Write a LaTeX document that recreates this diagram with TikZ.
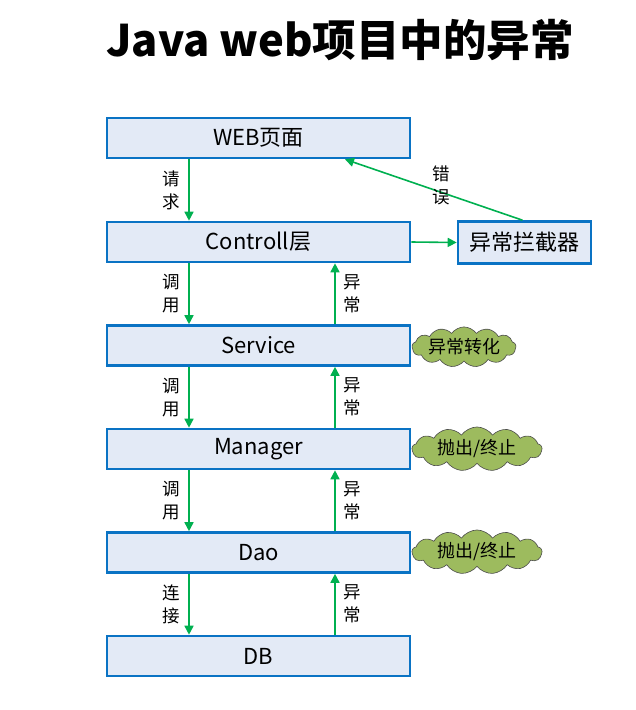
\documentclass[tikz,border=0pt]{standalone}
\usepackage{fontspec}
\setmainfont{Noto Sans CJK SC}
\usepackage{tikz}
\usetikzlibrary{arrows.meta, positioning, shapes.symbols}

\definecolor{boxfill}{HTML}{E3EAF6}
\definecolor{boxline}{HTML}{0A73C4}
\definecolor{flowgreen}{HTML}{00B050}
\definecolor{cloudfill}{HTML}{9DBB5E}

\begin{document}
\begin{tikzpicture}[
      x=1pt, y=-1pt,
      >={Triangle[length=9pt,width=9pt]},
      layer/.style={rectangle, draw=boxline, fill=boxfill, line width=2.6pt, minimum width=303pt, minimum height=40pt, inner sep=0pt, font=\fontsize{22}{26}\selectfont},
      handler/.style={layer, minimum width=133pt, minimum height=42pt},
      flow/.style={->, draw=flowgreen, line width=1.6pt},
      tag/.style={align=center, font=\fontsize{17.5}{23}\selectfont, inner sep=0pt},
      note/.style={cloud, cloud puffs=13, cloud puff arc=110, aspect=3.6, draw=black!70, line width=0.6pt, fill=cloudfill, inner sep=0pt, font=\fontsize{18}{22}\selectfont}
  ]
      \useasboundingbox (0,0) rectangle (635,710);

      % Title
      \node[font=\fontsize{43.5}{50}\selectfont\bfseries] (title) at (340,40) {Java web项目中的异常};

      % Layers
      \node[layer] (web)  at (258.5,138)   {WEB页面};
      \node[layer] (ctrl) at (258.5,242)   {Controll层};
      \node[layer] (svc)  at (258.5,345.5) {Service};
      \node[layer] (mgr)  at (258.5,449)   {Manager};
      \node[layer] (dao)  at (258.5,552.5) {Dao};
      \node[layer] (db)   at (258.5,656)   {DB};
      \node[handler] (icpt) at (524.5,242.5) {异常拦截器};

      % Notes
      \node[note, minimum width=104pt, minimum height=36pt] (n1) at (464,347) {异常转化};
      \node[note, minimum width=130pt, minimum height=36pt] (n2) at (477,449) {抛出/终止};
      \node[note, minimum width=130pt, minimum height=36pt] (n3) at (477,552) {抛出/终止};

      % Calls (down)
      \draw[flow] ([xshift=-69.5pt]web.south) -- node[tag, midway, left=8pt] {请\\求} ([xshift=-69.5pt]ctrl.north);
      \draw[flow] ([xshift=-69.5pt]ctrl.south) -- node[tag, midway, left=8pt] {调\\用} ([xshift=-69.5pt]svc.north);
      \draw[flow] ([xshift=-69.5pt]svc.south) -- node[tag, midway, left=8pt] {调\\用} ([xshift=-69.5pt]mgr.north);
      \draw[flow] ([xshift=-69.5pt]mgr.south) -- node[tag, midway, left=8pt] {调\\用} ([xshift=-69.5pt]dao.north);
      \draw[flow] ([xshift=-69.5pt]dao.south) -- node[tag, midway, left=8pt] {连\\接} ([xshift=-69.5pt]db.north);

      % Exceptions (up)
      \draw[flow] ([xshift=76.5pt]svc.north) -- node[tag, midway, right=8pt] {异\\常} ([xshift=76.5pt]ctrl.south);
      \draw[flow] ([xshift=76.5pt]mgr.north) -- node[tag, midway, right=8pt] {异\\常} ([xshift=76.5pt]svc.south);
      \draw[flow] ([xshift=76.5pt]dao.north) -- node[tag, midway, right=8pt] {异\\常} ([xshift=76.5pt]mgr.south);
      \draw[flow] ([xshift=76.5pt]db.north) -- node[tag, midway, right=8pt] {异\\常} ([xshift=76.5pt]dao.south);

      % Interceptor
      \draw[flow] (ctrl.east) -- (icpt.west);
      \draw[flow] ([xshift=-2pt]icpt.north) -- node[tag, midway, xshift=7pt, yshift=4pt] {错\\误} ([xshift=86.5pt]web.south);
  \end{tikzpicture}
\end{document}
